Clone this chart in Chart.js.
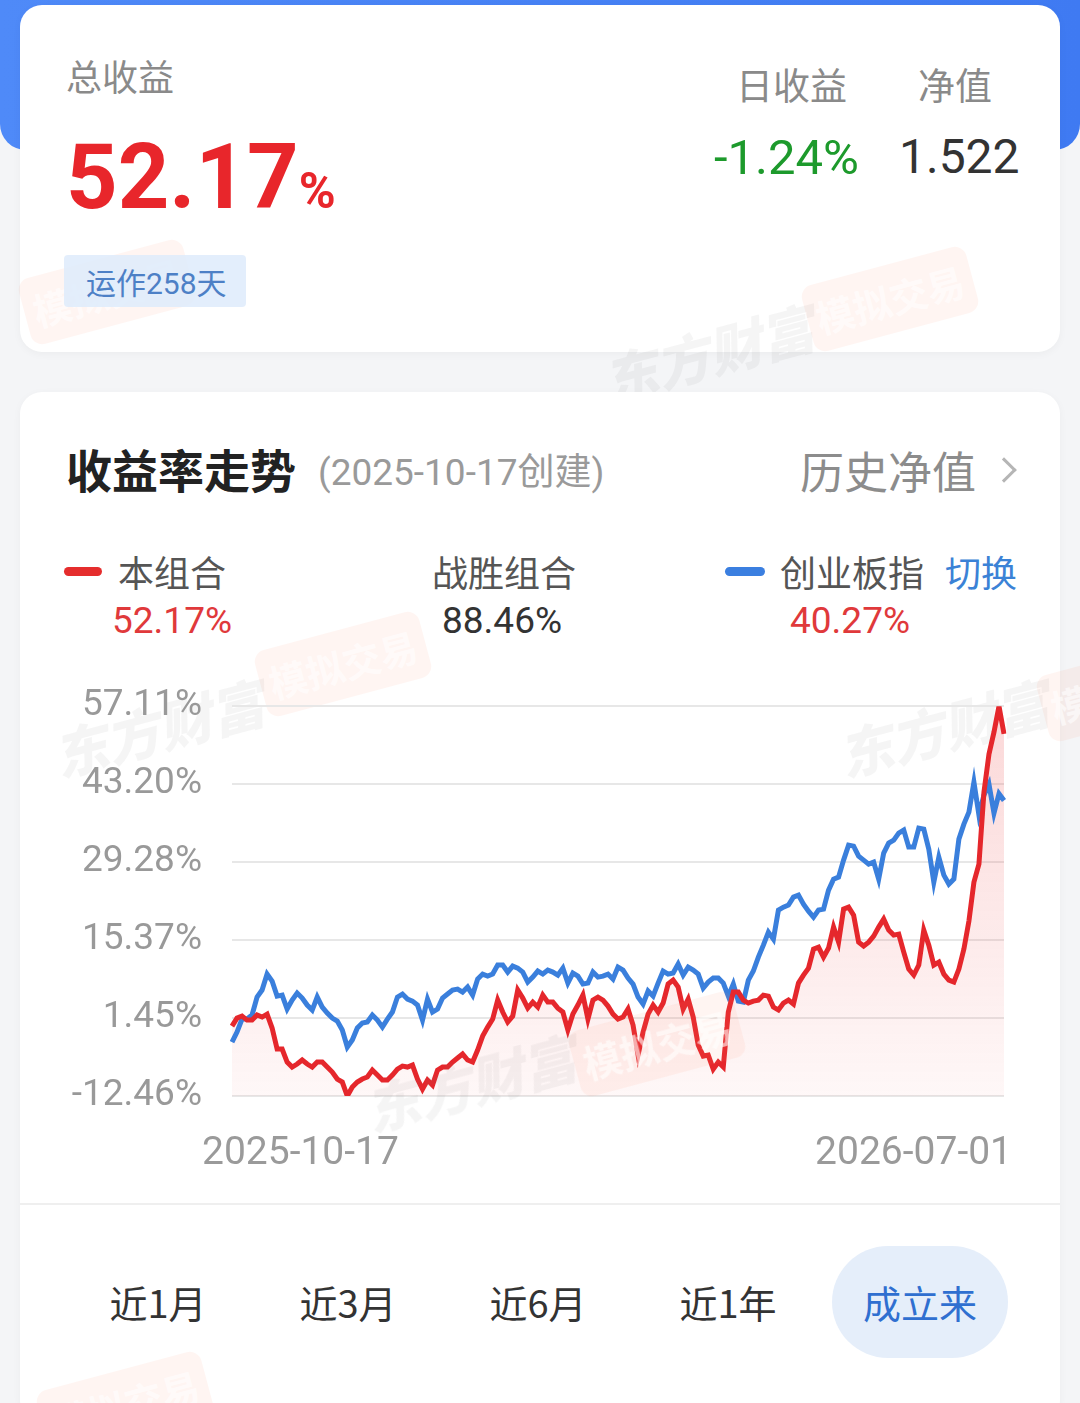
<!DOCTYPE html>
<html lang="zh-CN">
<head>
<meta charset="utf-8">
<script src="https://cdn.jsdelivr.net/npm/chart.js@4.4.1/dist/chart.umd.min.js"></script>
<style>
  html, body { margin: 0; padding: 0; }
  body {
    width: 1080px; height: 1403px; position: relative; overflow: hidden;
    background: #f4f5f7;
    font-family: Roboto, "Noto Sans CJK SC", "Noto Sans", sans-serif;
  }
  .abs { position: absolute; line-height: 1; white-space: nowrap; }
  .band { position: absolute; left: 0; top: 0; width: 1080px; height: 150px;
    background: linear-gradient(90deg, #4f8af8, #3f7af2); border-radius: 0 0 26px 26px; }
  .card { position: absolute; left: 20px; width: 1040px; background: #fff; border-radius: 22px;
    box-shadow: 0 2px 8px rgba(0,0,0,0.04); }
  .cjk { font-family: "Noto Sans CJK SC", sans-serif; }
  .dash { position: absolute; height: 9px; border-radius: 5px; }
  .tab { position: absolute; top: 1283px; width: 190px; text-align: center; font-size: 38px;
    color: #333; line-height: 1; font-family: "Noto Sans CJK SC", sans-serif; }
  .wm { position: absolute; line-height: 1; white-space: nowrap; transform: rotate(-15deg);
    font-family: "Noto Sans CJK SC", sans-serif; font-weight: 900; font-style: italic;
    color: rgba(120,120,120,0.07); font-size: 54px; pointer-events: none; }
  .wb { position: absolute; width: 170px; height: 68px; border-radius: 12px; transform: rotate(-15deg);
    background: rgba(255,130,90,0.08); color: rgba(255,255,255,0.6); font-size: 38px; line-height: 68px;
    text-align: center; font-family: "Noto Sans CJK SC", sans-serif; font-weight: 700; pointer-events: none; }
</style>
</head>
<body>
<div class="band"></div>

<!-- 顶部卡片 -->
<div class="card" style="top:5px;height:347px;"></div>
<div class="wb" style="left:22px;top:258px;">模拟交易</div>
<div class="wb" style="left:805px;top:265px;">模拟交易</div>
<div class="wm" style="left:600px;top:325px;">东方财富</div>
<div class="abs cjk" style="left:66px;top:57px;font-size:36px;color:#8a8a8a;">总收益</div>
<div class="abs" style="left:66px;top:133px;font-size:90px;font-weight:700;color:#e8262b;">52.17<span style="font-size:50px;">%</span></div>
<div class="abs cjk" style="left:736px;top:66px;font-size:37px;color:#8a8a8a;">日收益</div>
<div class="abs cjk" style="left:918px;top:66px;font-size:37px;color:#8a8a8a;">净值</div>
<div class="abs" style="left:714px;top:133px;font-size:49px;color:#1d9a2c;">-1.24%</div>
<div class="abs" style="left:899px;top:133px;font-size:48px;color:#333;">1.522</div>
<div class="abs" style="left:64px;top:255px;width:182px;height:52px;background:rgba(222,235,252,0.85);border-radius:4px;"></div>
<div class="abs" style="left:86px;top:266px;font-size:30px;color:#4d80c6;"><span class="cjk">运作</span>258<span class="cjk">天</span></div>

<!-- 收益率卡片 -->
<div class="card" style="top:392px;height:1030px;"></div>
<div class="wm" style="left:50px;top:700px;">东方财富</div>
<div class="wb" style="left:258px;top:630px;">模拟交易</div>
<div class="wm" style="left:835px;top:700px;">东方财富</div>
<div class="wb" style="left:1040px;top:655px;">模拟交易</div>
<div class="wb" style="left:40px;top:1370px;">模拟交易</div>

<div class="abs cjk" style="left:66px;top:445px;font-size:46px;font-weight:700;color:#222;">收益率走势</div>
<div class="abs" style="left:318px;top:451px;font-size:37px;color:#9a9a9a;">(2025-10-17<span class="cjk">创建</span>)</div>
<div class="abs cjk" style="left:800px;top:448px;font-size:44px;color:#8c8c8c;">历史净值</div>
<div class="abs" style="left:995px;top:461px;width:15px;height:15px;border-top:3px solid #b5b5b5;border-right:3px solid #b5b5b5;transform:rotate(45deg);"></div>

<div class="dash" style="left:64px;top:567px;width:38px;background:#e52d2d;"></div>
<div class="abs cjk" style="left:118px;top:553px;font-size:36px;color:#555;">本组合</div>
<div class="abs" style="left:112px;top:602px;font-size:37px;color:#e0393b;">52.17%</div>
<div class="abs cjk" style="left:432px;top:553px;font-size:36px;color:#555;">战胜组合</div>
<div class="abs" style="left:442px;top:602px;font-size:37px;color:#333;">88.46%</div>
<div class="dash" style="left:725px;top:567px;width:40px;background:#3b7fe0;"></div>
<div class="abs cjk" style="left:780px;top:553px;font-size:36px;color:#555;">创业板指</div>
<div class="abs cjk" style="left:945px;top:553px;font-size:36px;color:#3b82d6;">切换</div>
<div class="abs" style="left:790px;top:602px;font-size:37px;color:#e0393b;">40.27%</div>

<canvas id="trendChart" width="1040" height="496" style="position:absolute;left:20px;top:654px;"></canvas>
<div class="wm" style="left:362px;top:1055px;">东方财富</div>
<div class="wb" style="left:572px;top:1010px;">模拟交易</div>
<div id="xLabels" class="abs" style="left:202px;top:1132px;width:810px;display:flex;justify-content:space-between;font-size:39px;color:#9a9a9a;"></div>

<div class="abs" style="left:20px;top:1203px;width:1040px;height:2px;background:#efefef;"></div>
<div class="abs" style="left:832px;top:1246px;width:176px;height:112px;border-radius:56px;background:#e5eefa;"></div>
<div class="tab" style="left:63px;">近1月</div>
<div class="tab" style="left:253px;">近3月</div>
<div class="tab" style="left:443px;">近6月</div>
<div class="tab" style="left:633px;">近1年</div>
<div class="tab" style="left:825px;color:#2f6fd0;">成立来</div>

<script>
// 本组合收益率 (%)
const portfolio = [
  0.00, 1.45, 1.81, 1.09, 1.09, 1.99, 1.63, 2.16, -0.33, -4.08,
  -4.08, -6.40, -7.29, -6.76, -6.04, -6.76, -7.29, -6.40, -6.40, -7.29,
  -8.18, -9.43, -9.97, -12.46, -10.86, -9.97, -9.43, -9.08, -7.83, -8.72,
  -9.61, -9.61, -8.72, -7.65, -7.11, -7.29, -6.94, -9.43, -11.22, -9.61,
  -10.50, -7.83, -7.29, -7.29, -6.40, -5.69, -4.97, -6.04, -6.40, -4.26,
  -1.76, -0.16, 1.27, 4.66, 2.52, 0.74, 1.81, 6.45, 5.02, 3.23,
  4.30, 3.41, 5.55, 4.30, 4.30, 3.23, 2.52, -0.69, 2.16, 3.77,
  5.55, 1.27, 4.66, 5.20, 4.66, 3.59, 2.16, 1.27, 1.63, 3.06,
  0.20, -5.15, -1.05, 2.16, 3.77, 2.52, 4.13, 7.52, 8.23, 6.98,
  3.06, 4.84, 1.63, -3.37, -5.33, -5.15, -7.65, -6.40, -7.29, 2.52,
  6.09, 6.09, 4.66, 4.13, 4.48, 4.66, 5.55, 5.37, 3.41, 2.88,
  4.13, 4.66, 3.95, 7.69, 9.12, 10.37, 13.76, 14.12, 12.33, 13.94,
  17.69, 15.01, 20.90, 21.25, 19.83, 15.01, 14.30, 15.01, 16.08, 17.69,
  19.11, 17.15, 16.26, 16.44, 13.23, 10.19, 9.12, 10.91, 17.15, 14.47,
  10.91, 11.44, 9.30, 8.23, 7.87, 10.19, 13.76, 18.76, 25.71, 28.92,
  41.77, 48.55, 52.48, 57.11, 52.17
];

// 创业板指收益率 (%)
const chinext = [
  -2.83, -1.05, 1.27, 1.27, 1.99, 5.20, 6.45, 9.30, 8.05, 5.37,
  5.55, 3.06, 4.66, 5.91, 5.02, 3.77, 2.88, 5.20, 3.41, 2.34,
  1.45, 0.91, -0.69, -3.72, -2.48, -0.33, 0.56, 0.74, 1.99, 1.09,
  -0.16, 1.27, 2.52, 5.20, 5.73, 4.84, 4.48, 3.77, 1.09, 4.84,
  2.52, 3.06, 5.02, 5.73, 6.45, 6.62, 6.09, 6.98, 5.55, 8.41,
  9.30, 8.94, 9.30, 10.91, 10.91, 9.66, 10.73, 10.37, 9.66, 7.87,
  8.76, 9.84, 9.30, 10.01, 9.66, 9.12, 10.37, 7.69, 9.48, 8.94,
  7.52, 7.69, 9.66, 8.76, 8.94, 9.30, 8.41, 10.55, 10.01, 8.59,
  7.52, 5.20, 3.95, 6.27, 5.37, 7.69, 9.84, 9.30, 9.48, 11.08,
  9.12, 10.55, 10.01, 9.30, 6.80, 7.87, 8.59, 8.59, 7.69, 5.37,
  7.52, 4.48, 4.30, 8.23, 9.84, 12.33, 14.47, 16.79, 15.54, 20.72,
  21.25, 21.61, 23.04, 23.39, 21.79, 20.54, 19.47, 20.72, 20.90, 24.29,
  26.25, 26.61, 29.64, 32.31, 32.14, 30.35, 29.64, 28.92, 29.28, 26.25,
  30.89, 32.67, 33.21, 34.46, 34.99, 31.96, 31.96, 35.35, 35.17, 31.60,
  25.71, 30.17, 26.96, 25.36, 26.25, 33.38, 36.06, 38.20, 43.55, 37.67,
  41.23, 43.20, 38.02, 41.50, 40.27
];

const yTicks = [57.11, 43.20, 29.28, 15.37, 1.45, -12.46];
const xTickLabels = ['2025-10-17', '2026-07-01'];
const labels = portfolio.map((_, i) => i);

document.getElementById('xLabels').innerHTML = xTickLabels.map(t => `<span>${t}</span>`).join('');

new Chart(document.getElementById('trendChart'), {
  type: 'line',
  data: {
    labels,
    datasets: [
      {
        label: '本组合',
        data: portfolio,
        borderColor: '#e5272c',
        borderWidth: 5,
        pointRadius: 0,
        tension: 0,
        fill: 'start',
        backgroundColor: ctx => {
          const area = ctx.chart.chartArea;
          if (!area) return 'rgba(235,60,60,0.1)';
          const g = ctx.chart.ctx.createLinearGradient(0, area.top, 0, area.bottom);
          g.addColorStop(0, 'rgba(236,60,60,0.20)');
          g.addColorStop(1, 'rgba(236,60,60,0.04)');
          return g;
        }
      },
      {
        label: '创业板指',
        data: chinext,
        borderColor: '#3a7fdc',
        borderWidth: 5,
        pointRadius: 0,
        tension: 0,
        fill: false
      }
    ]
  },
  options: {
    responsive: false,
    animation: false,
    devicePixelRatio: 1,
    layout: { padding: { top: 24, right: 56, bottom: 54, left: 0 } },
    plugins: {
      legend: { display: false },
      tooltip: { enabled: false },
      filler: { drawTime: 'beforeDatasetsDraw' }
    },
    scales: {
      x: { display: false },
      y: {
        min: -12.46,
        max: 57.11,
        afterFit: scale => { scale.width = 212; },
        afterBuildTicks: scale => { scale.ticks = yTicks.map(v => ({ value: v })); },
        grid: { color: '#e7e7e7', lineWidth: 2, drawTicks: false },
        border: { display: false },
        ticks: {
          padding: 30,
          color: '#999',
          font: { family: 'Roboto', size: 37 },
          callback: v => v.toFixed(2) + '%'
        }
      }
    }
  }
});
</script>
</body>
</html>
